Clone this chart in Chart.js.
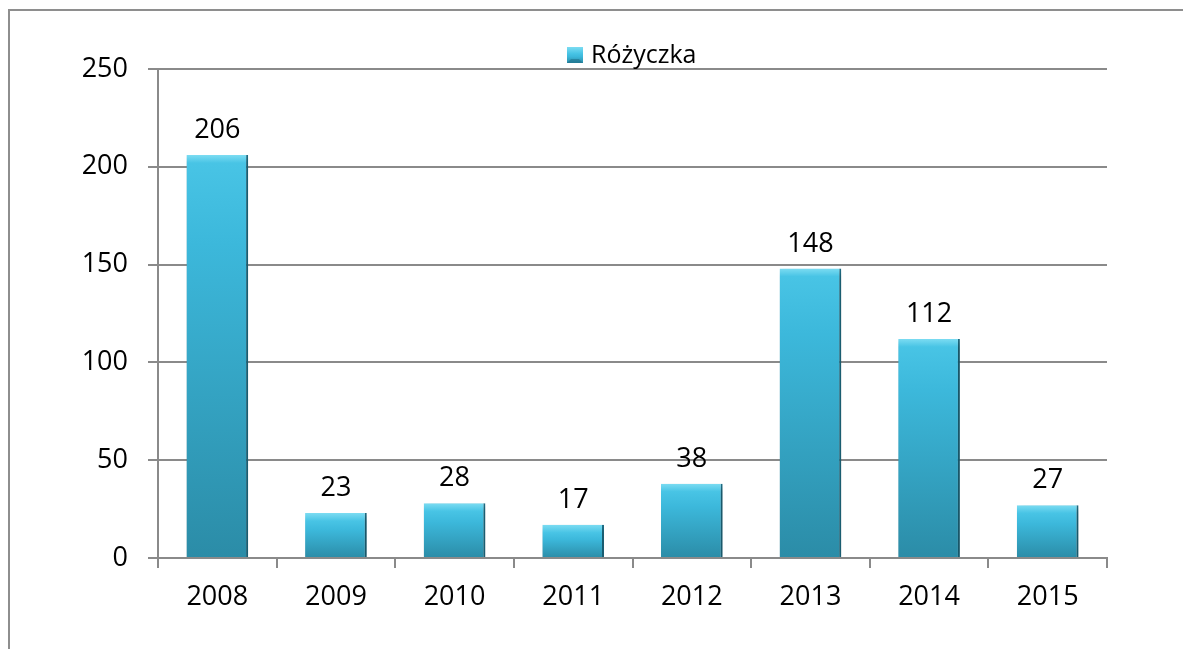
<!DOCTYPE html>
<html>
<head>
<meta charset="utf-8">
<script src="https://cdn.jsdelivr.net/npm/chart.js@4"></script>
<style>
  html, body { margin: 0; padding: 0; background: #fff; overflow: hidden; }
  #frame { position: absolute; left: 8px; top: 9px; width: 1300px; height: 800px;
           border-top: 2px solid #8e8e8e; border-left: 2px solid #8e8e8e; }
  #wrap { position: absolute; left: 0; top: 0; width: 1183px; height: 649px; }
</style>
</head>
<body>
<div id="frame"></div>
<div id="wrap"><canvas id="chart"></canvas></div>
<script>
/* Różyczka — cases per year */

const years = ['2008', '2009', '2010', '2011', '2012', '2013', '2014', '2015'];
const cases = [206, 23, 28, 17, 38, 148, 112, 27];
const seriesName = 'Różyczka';
const yTicks = [0, 50, 100, 150, 200, 250];

const FONT = "'Open Sans', 'Noto Sans', sans-serif";
const GRID = '#8a8a8a';

function barGradient(c, top, bottom) {
  const g = c.createLinearGradient(0, top, 0, bottom);
  const h = Math.max(bottom - top, 1);
  const hi = Math.min(8 / h, 0.4);
  g.addColorStop(0, '#7cdcf2');
  g.addColorStop(hi, '#48c4e5');
  g.addColorStop(Math.min(hi + 0.2, 0.6), '#3cb8db');
  g.addColorStop(1, '#2b8ca7');
  return g;
}

/* value labels above bars + shadow + legend, drawn on the chart canvas */
const extras = {
  id: 'extras',
  beforeDatasetsDraw(chart) {
    const c = chart.ctx;
    c.save();
    c.shadowColor = 'rgba(0,0,0,0.35)';
    c.shadowBlur = 7;
    c.shadowOffsetX = 2;
    c.shadowOffsetY = 3;
  },
  afterDatasetsDraw(chart) {
    const c = chart.ctx;
    c.restore();
    const meta = chart.getDatasetMeta(0);
    c.save();
    c.font = '27px ' + FONT;
    c.fillStyle = '#000';
    c.textAlign = 'center';
    c.textBaseline = 'bottom';
    meta.data.forEach((bar, i) => {
      c.fillText(String(cases[i]), bar.x, bar.y - 11);
    });

    // legend
    const bx = 567, by = 47, bs = 16;
    c.fillStyle = barGradient(c, by, by + bs);
    c.fillRect(bx, by, bs, bs);
    c.fillStyle = 'rgba(30,110,135,0.55)';
    c.beginPath();
    c.moveTo(bx, by + bs); c.lineTo(bx + 4, by + bs - 4); c.lineTo(bx + bs - 4, by + bs - 4);
    c.lineTo(bx + bs, by + bs); c.closePath(); c.fill();
    c.font = '25px ' + FONT;
    c.fillStyle = '#000';
    c.textAlign = 'left';
    c.textBaseline = 'middle';
    c.fillText(seriesName, 591, 56);
    c.restore();
  }
};

const ctx = document.getElementById('chart').getContext('2d');
new Chart(ctx, {
  type: 'bar',
  data: {
    labels: years,
    datasets: [{
      label: seriesName,
      data: cases,
      backgroundColor: (context) => {
        const chart = context.chart;
        if (!chart.chartArea || !chart.scales.y) return '#3bb8db';
        const y = chart.scales.y;
        return barGradient(chart.ctx, y.getPixelForValue(context.raw), y.getPixelForValue(0));
      },
      borderColor: '#1f7088',
      borderWidth: { right: 2, left: 0, top: 0, bottom: 0 },
      borderSkipped: false,
      barPercentage: 0.52,
      categoryPercentage: 1,
    }],
  },
  options: {
    responsive: true,
    maintainAspectRatio: false,
    animation: false,
    layout: { padding: { left: 0, top: 69, right: 76, bottom: 0 } },
    plugins: {
      legend: { display: false },
      tooltip: { enabled: false },
    },
    scales: {
      x: {
        offset: true,
        grid: { display: true, offset: true, drawOnChartArea: false, drawTicks: true,
                tickLength: 10, color: GRID, lineWidth: 2 },
        border: { display: true, color: GRID, width: 2 },
        ticks: { color: '#000', font: { family: FONT, size: 27 }, padding: 13 },
        afterFit: s => { s.height = 91; },
      },
      y: {
        min: 0,
        max: 250,
        afterBuildTicks: s => { s.ticks = yTicks.map(v => ({ value: v })); },
        grid: { color: GRID, lineWidth: 2, tickLength: 10, drawTicks: true },
        border: { display: true, color: GRID, width: 2 },
        ticks: { color: '#000', font: { family: FONT, size: 27 }, padding: 20 },
        afterFit: s => { s.width = 158; },
      },
    },
  },
  plugins: [extras],
});
</script>
</body>
</html>
